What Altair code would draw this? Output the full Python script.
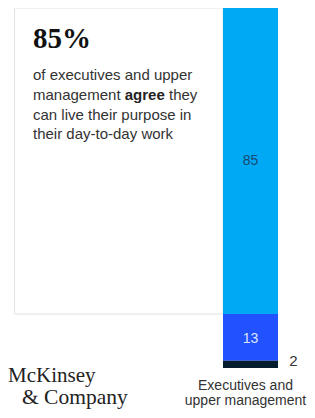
import altair as alt
import pandas as pd

# ---- data ----
segments = ["agree", "neutral", "disagree"]
values = [85, 13, 2]
stack_order = [3, 2, 1]
seg_colors = ["#00A9F4", "#2251FF", "#051C2C"]
category = "Executives and\nupper management"
headline = "85%"
line1 = "of executives and upper"
line2a = "management"
line2b = "agree"
line2c = "they"
line3 = "can live their purpose in"
line4 = "their day-to-day work"
logo1 = "McKinsey"
logo2 = "& Company"

df = pd.DataFrame({
    "cat": [category] * len(segments),
    "segment": segments,
    "value": values,
    "order": stack_order,
})

base = (
    alt.Chart(df)
    .transform_stack(stack="value", groupby=["cat"],
                     sort=[alt.SortField("order", order="ascending")],
                     as_=["y0", "y1"])
    .transform_calculate(mid="(datum.y0 + datum.y1) / 2")
)

xenc = alt.X(
    "cat:N",
    scale=alt.Scale(domain=[category], range=[215, 270], paddingInner=0, paddingOuter=0),
    axis=alt.Axis(title=None, ticks=False, domain=False, labelAngle=0, labelLimit=0,
                  labelExpr="split(datum.label, '\\n')",
                  labelFont="Liberation Sans", labelFontSize=14, labelLineHeight=15,
                  labelPadding=10, labelOffset=-5, labelColor="#333333"),
)
yscale = alt.Scale(domain=[0, 100], range=[360, 0])

box = base.transform_filter("datum.segment == 'agree'").mark_rect(
    fill="white", stroke="#e2e2e2", strokeWidth=1
).encode(
    x=alt.value(6.5), x2=alt.value(215),
    y=alt.Y("y1:Q", scale=yscale, axis=None), y2="y0:Q",
)

bars = base.mark_bar().encode(
    x=xenc,
    y=alt.Y("y0:Q", scale=yscale, axis=None), y2="y1:Q",
    color=alt.Color("segment:N", scale=alt.Scale(domain=segments, range=seg_colors), legend=None),
)

lab_agree = base.transform_filter("datum.segment == 'agree'").mark_text(
    font="Liberation Sans", fontSize=14, color="#1B4A72"
).encode(x="cat:N", y=alt.Y("mid:Q", scale=yscale, axis=None), text="value:Q")

lab_neutral = base.transform_filter("datum.segment == 'neutral'").mark_text(
    font="Liberation Sans", fontSize=14, color="#DDE5FF", dy=2
).encode(x="cat:N", y=alt.Y("mid:Q", scale=yscale, axis=None), text="value:Q")

lab_small = base.transform_filter("datum.value < 5").mark_text(
    font="Liberation Sans", fontSize=15, color="#333333", dx=43, dy=-3
).encode(x="cat:N", y=alt.Y("mid:Q", scale=yscale, axis=None), text="value:Q")


def txt(s, x, y, size=15, font="Liberation Sans", weight="normal", color="#333333"):
    return alt.Chart(pd.DataFrame({"t": [s]})).mark_text(
        align="left", baseline="alphabetic", font=font, fontSize=size,
        fontWeight=weight, color=color
    ).encode(x=alt.value(x), y=alt.value(y), text="t:N")


texts = [
    txt(headline, 25, 40, size=29, font="Liberation Serif", weight="bold", color="#111111"),
    txt(line1, 25, 72),
    txt(line2a, 25, 92),
    txt(line2b, 116.7, 92, weight="bold", color="#222222"),
    txt(line2c, 161, 92),
    txt(line3, 25, 111.5),
    txt(line4, 25, 131),
    txt(logo1, 0, 374, size=21, font="Liberation Serif", color="#222222"),
    txt(logo2, 14, 396, size=21.5, font="Liberation Serif", color="#222222"),
]

chart = alt.layer(box, bars, lab_agree, lab_neutral, lab_small, *texts).properties(
    width=299, height=360, autosize="none",
    padding={"left": 0, "top": 0, "right": 0, "bottom": 42},
    background="white",
).configure_view(stroke=None)

chart.save("out.html", embed_options={"renderer": "svg", "actions": False})
